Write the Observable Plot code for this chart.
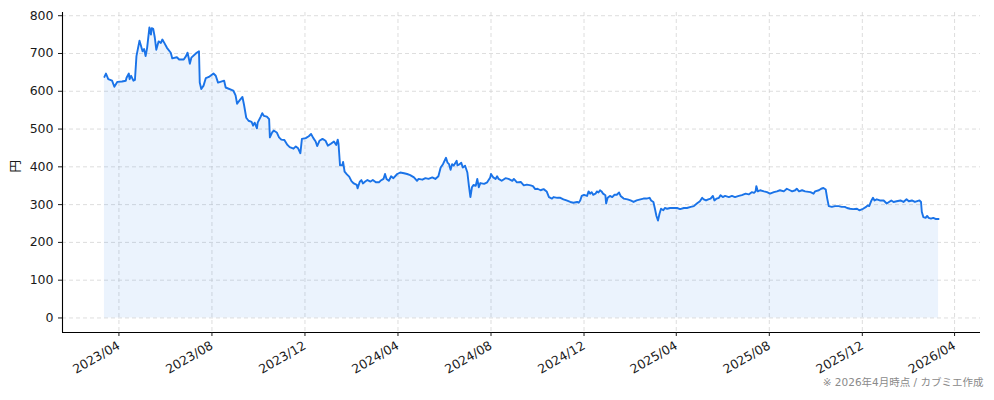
<!DOCTYPE html>
<html>
<head>
<meta charset="utf-8">
<script src="https://cdn.jsdelivr.net/npm/d3@7"></script>
<script src="https://cdn.jsdelivr.net/npm/@observablehq/plot@0.6"></script>
<style>
  html, body { margin: 0; padding: 0; background: #fff; }
  #chart { width: 994px; height: 400px; }
</style>
</head>
<body>
<div id="chart"></div>
<script>
const dates = [
"2023-03-13","2023-03-15","2023-03-18","2023-03-23","2023-03-26","2023-03-30","2023-04-05","2023-04-10","2023-04-11","2023-04-14",
"2023-04-15","2023-04-17","2023-04-20","2023-04-22","2023-04-24","2023-04-28","2023-05-02","2023-05-04","2023-05-06","2023-05-08",
"2023-05-11","2023-05-13","2023-05-14","2023-05-16","2023-05-18","2023-05-20","2023-05-23","2023-05-26","2023-05-28","2023-05-30",
"2023-06-03","2023-06-08","2023-06-10","2023-06-16","2023-06-19","2023-06-25","2023-06-28","2023-06-30","2023-07-02","2023-07-03",
"2023-07-05","2023-07-12","2023-07-15","2023-07-16","2023-07-18","2023-07-21","2023-07-24","2023-07-28","2023-08-03","2023-08-06",
"2023-08-09","2023-08-17","2023-08-19","2023-08-29","2023-09-01","2023-09-03",
"2023-09-07","2023-09-10","2023-09-12","2023-09-15","2023-09-18","2023-09-22","2023-09-24","2023-09-26","2023-09-29","2023-09-30",
"2023-10-04","2023-10-06","2023-10-08","2023-10-12","2023-10-15","2023-10-16","2023-10-19","2023-10-21","2023-10-25","2023-10-28",
"2023-10-31","2023-11-04","2023-11-08","2023-11-11","2023-11-16","2023-11-19","2023-11-22","2023-11-25","2023-11-27","2023-12-02",
"2023-12-06","2023-12-09","2023-12-12","2023-12-15","2023-12-17","2023-12-20","2023-12-24","2023-12-28","2023-12-31","2024-01-04",
"2024-01-08","2024-01-11","2024-01-13","2024-01-14","2024-01-16","2024-01-19","2024-01-20","2024-01-22","2024-01-25","2024-01-28",
"2024-01-31","2024-02-03","2024-02-07","2024-02-08","2024-02-11","2024-02-13","2024-02-15","2024-02-18","2024-02-21","2024-02-25",
"2024-02-28","2024-03-03","2024-03-07",
"2024-03-09","2024-03-13","2024-03-15","2024-03-17","2024-03-20","2024-03-23","2024-03-26","2024-03-31","2024-04-04","2024-04-09",
"2024-04-13","2024-04-17","2024-04-22","2024-04-26","2024-04-28","2024-05-03","2024-05-07","2024-05-11","2024-05-16","2024-05-20",
"2024-05-24","2024-05-27","2024-05-30","2024-06-03","2024-06-05","2024-06-07","2024-06-09","2024-06-11","2024-06-13","2024-06-17",
"2024-06-18","2024-06-21","2024-06-23","2024-06-25","2024-06-28","2024-07-01","2024-07-03","2024-07-05","2024-07-07","2024-07-09",
"2024-07-12","2024-07-14","2024-07-16","2024-07-18","2024-07-23","2024-07-27","2024-07-31","2024-08-01","2024-08-04","2024-08-07",
"2024-08-09","2024-08-11","2024-08-15","2024-08-20","2024-08-24","2024-08-29","2024-08-31","2024-09-04","2024-09-09",
"2024-09-13","2024-09-17","2024-09-22","2024-09-25","2024-09-28","2024-10-01","2024-10-05","2024-10-09","2024-10-13","2024-10-16",
"2024-10-20","2024-10-22","2024-10-27","2024-10-31","2024-11-04","2024-11-08","2024-11-13","2024-11-17","2024-11-22","2024-11-24",
"2024-11-26","2024-11-28","2024-12-01","2024-12-05","2024-12-07","2024-12-09","2024-12-11","2024-12-13","2024-12-16","2024-12-18",
"2024-12-20","2024-12-22","2024-12-24","2024-12-26","2024-12-29","2024-12-30","2025-01-01","2025-01-04","2025-01-07","2025-01-10",
"2025-01-13","2025-01-16","2025-01-18","2025-01-22","2025-01-27","2025-01-31","2025-02-04","2025-02-08","2025-02-13","2025-02-17",
"2025-02-21","2025-02-25","2025-02-27","2025-03-02","2025-03-04","2025-03-06","2025-03-08","2025-03-10","2025-03-12","2025-03-15",
"2025-03-17","2025-03-20","2025-03-24","2025-03-28","2025-04-02",
"2025-04-06","2025-04-11","2025-04-15","2025-04-20","2025-04-24","2025-04-28","2025-05-02","2025-05-05","2025-05-07","2025-05-10",
"2025-05-13","2025-05-16","2025-05-19","2025-05-21","2025-05-24","2025-05-27","2025-05-29","2025-06-01","2025-06-04","2025-06-09",
"2025-06-13","2025-06-17","2025-06-22","2025-06-26","2025-07-01","2025-07-05","2025-07-09","2025-07-12","2025-07-14","2025-07-15",
"2025-07-17","2025-07-20","2025-07-25","2025-07-29","2025-08-02","2025-08-07","2025-08-11","2025-08-15","2025-08-20","2025-08-24",
"2025-08-28","2025-08-31","2025-09-04","2025-09-06","2025-09-09","2025-09-13","2025-09-17",
"2025-09-24","2025-09-28","2025-09-30","2025-10-05","2025-10-08","2025-10-11","2025-10-14","2025-10-16","2025-10-18","2025-10-22",
"2025-10-26","2025-10-31","2025-11-04","2025-11-08","2025-11-11","2025-11-15","2025-11-19","2025-11-24","2025-11-27","2025-12-02",
"2025-12-06","2025-12-08","2025-12-10","2025-12-13","2025-12-15","2025-12-17","2025-12-20","2025-12-24","2025-12-29","2026-01-02",
"2026-01-05","2026-01-08","2026-01-11","2026-01-15","2026-01-20","2026-01-24","2026-01-28","2026-01-31","2026-02-04","2026-02-08",
"2026-02-11","2026-02-14","2026-02-16","2026-02-17","2026-02-19","2026-02-22","2026-02-24","2026-02-26","2026-03-01","2026-03-04",
"2026-03-07","2026-03-11"
];

const prices = [
638,647,632,628,612,625,626,628,636,647,
632,641,628,630,693,734,706,712,693,715,
769,750,767,765,743,710,732,728,737,730,
715,702,687,690,684,684,693,702,684,673,
689,702,706,623,606,615,635,638,647,641,
623,628,610,602,589,567,
578,585,565,530,522,519,509,517,502,517,
533,542,535,533,526,478,491,496,491,478,
472,471,458,452,448,454,449,436,474,476,
481,487,476,467,455,469,474,469,456,461,
467,458,472,461,404,404,413,387,380,374,
362,356,352,343,361,365,356,361,365,361,
365,359,359,
363,368,381,368,363,375,370,381,385,383,
381,378,372,363,368,366,370,368,372,368,
375,398,407,424,411,407,392,407,403,416,
404,407,411,398,403,385,350,320,346,352,
350,368,346,357,355,359,372,381,372,368,
375,368,363,370,368,363,368,359,360,
351,353,351,349,341,342,338,341,335,320,
316,320,318,318,314,311,307,305,307,305,
311,323,326,323,335,329,333,326,329,335,
332,338,335,329,325,303,318,323,320,326,
326,332,323,316,314,311,307,311,314,316,
316,318,311,307,289,270,258,276,289,285,
291,289,291,291,291,
288,291,291,294,296,303,309,318,314,311,
314,316,323,311,316,318,325,320,323,320,
323,320,323,325,329,327,333,331,335,349,
335,338,335,333,329,333,335,338,335,342,
338,335,338,342,335,338,335,
333,329,335,338,342,344,340,316,296,294,
296,296,294,294,291,289,288,289,285,289,
294,298,296,311,318,311,314,311,311,303,
307,311,307,309,311,307,314,309,311,307,
309,311,307,281,267,265,270,265,263,265,
262,262
];

const xTicks = ["2023-04-01","2023-08-01","2023-12-01","2024-04-01","2024-08-01","2024-12-01","2025-04-01","2025-08-01","2025-12-01","2026-04-01"];
const yTicks = [0,100,200,300,400,500,600,700,800];
const yLabel = "円";
const caption = "※ 2026年4月時点 / カブミエ作成";

const parse = d3.utcParse("%Y-%m-%d");
const data = dates.map((d, i) => ({date: parse(d), price: prices[i]}));
const xTickDates = xTicks.map(parse);

const lineColor = "#1a73e8";
const xDomain = [parse("2023-01-17"), parse("2026-05-05")];
const yDomain = [-38.5, 808.5];
const font = "'DejaVu Sans', 'Noto Sans CJK JP', sans-serif";

const chart = Plot.plot({
  width: 994,
  height: 400,
  marginTop: 12,
  marginRight: 14,
  marginBottom: 68,
  marginLeft: 62,
  style: {fontFamily: font, fontSize: "12.5px", color: "#1a1a1a", background: "#fff"},
  x: {type: "utc", domain: xDomain},
  y: {domain: yDomain},
  marks: [
    Plot.gridX(xTickDates, {stroke: "#cfcfcf", strokeOpacity: 0.7, strokeDasharray: "4,3"}),
    Plot.gridY(yTicks, {stroke: "#cfcfcf", strokeOpacity: 0.7, strokeDasharray: "4,3"}),
    Plot.areaY(data, {x: "date", y: "price", fill: lineColor, fillOpacity: 0.085}),
    Plot.lineY(data, {x: "date", y: "price", stroke: lineColor, strokeWidth: 1.9}),
    Plot.ruleX([xDomain[0]], {stroke: "#000", strokeWidth: 1.1}),
    Plot.ruleY([yDomain[0]], {stroke: "#000", strokeWidth: 1.1}),
    Plot.axisY(yTicks, {tickSize: 4, tickPadding: 5, label: null, fontSize: 12.5}),
    Plot.axisX(xTickDates, {tickSize: 4, tickPadding: 8, tickRotate: -30, tickFormat: d3.utcFormat("%Y/%m"), label: null, fontSize: 12.5}),
    Plot.text([yLabel], {frameAnchor: "left", dx: -47, rotate: -90, fontSize: 12.5, fill: "#1a1a1a"}),
    Plot.text([caption], {frameAnchor: "bottom-right", dx: 3, dy: 53, textAnchor: "end", fontSize: 10.5, fill: "#8a8a8a"})
  ]
});

document.getElementById("chart").appendChild(chart);
</script>
</body>
</html>
